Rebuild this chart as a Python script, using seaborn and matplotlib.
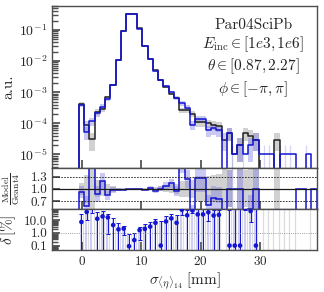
import numpy as np
import pandas as pd
import matplotlib
matplotlib.use("Agg")
import matplotlib.pyplot as plt
import seaborn as sns

# binning of sigma_<eta>_14 in mm
bin_lo, bin_hi, n_bins = -0.5, 39.5, 45
n_events = 1e5  # weight of one shower is 1/n_events

# normalised histograms (a.u.), one value per bin
g4 = [4.3e-4, 8.8e-5, 3.1e-5, 2.4e-4, 2.9e-4, 7.0e-4, 1.75e-3, 1.08e-2, 9.4e-2,
      0.335, 0.335, 0.112, 3.0e-2, 1.15e-2, 5.0e-3, 2.5e-3, 1.45e-3, 9.0e-4,
      6.7e-4, 2.7e-4, 2.6e-4, 2.0e-4, 1.1e-4, 1.1e-4, 1.0e-4, 9e-5, 8e-5, 3e-5,
      5e-5, 1e-5, 2e-5, 5e-5, 4e-5, 3e-5, 0, 0, 0, 3e-5, 0, 0, 0, 0, 0, 0, 0]
model = [4.0e-4, 5.1e-5, 1.16e-4, 2.1e-4, 3.45e-4, 5.9e-4, 1.68e-3, 1.06e-2, 9.2e-2,
         0.3353, 0.3359, 0.1102, 2.94e-2, 1.185e-2, 4.7e-3, 2.5e-3, 1.56e-3, 1.02e-3,
         6.3e-4, 4.4e-4, 3.2e-4, 9e-5, 1.4e-4, 1.4e-4, 6e-5, 7e-5, 6e-5, 0,
         5e-5, 1e-5, 2e-5, 1e-5, 2e-5, 3e-5, 1e-5, 1e-5, 1e-5, 0, 1e-5, 1e-5, 1e-5, 0, 0, 1e-5, 0]

info = ("Par04SciPb\n$E_{\\mathrm{inc}} \\in [1e3, 1e6]$\n"
        "$\\theta \\in [0.87, 2.27]$\n$\\phi \\in [-\\pi, \\pi]$")

blue = "#1414d4"
blue_band = "#7878e4"
grey_band = "#8c8c8c"

sns.set_theme(style="ticks")
plt.rcParams.update({
    "font.family": "serif",
    "font.serif": ["cmr10"],
    "mathtext.fontset": "cm",
    "axes.formatter.use_mathtext": True,
    "axes.unicode_minus": False,
    "xtick.direction": "in",
    "ytick.direction": "in",
    "xtick.labelsize": 9.5,
    "ytick.labelsize": 9.5,
    "axes.edgecolor": "0.3",
    "axes.linewidth": 1.0,
})

edges = np.linspace(bin_lo, bin_hi, n_bins + 1)
centers = 0.5 * (edges[1:] + edges[:-1])
width = edges[1] - edges[0]
g4 = np.array(g4)
model = np.array(model)
g4_err = np.sqrt(g4 / n_events)
m_err = np.sqrt(model / n_events)


def band(a, lo, hi, color, bottom):
    """error boxes; bins whose lower edge is not positive collapse to a thin line"""
    valid = np.isfinite(lo) & np.isfinite(hi) & (hi > 0)
    box = valid & (lo > 0)
    a.bar(edges[:-1][box], (hi - lo)[box], bottom=lo[box], width=width,
          align="edge", color=color, alpha=0.4, lw=0)
    thin = valid & ~box
    a.vlines(edges[:-1][thin], bottom, hi[thin], color=color, alpha=0.3, lw=0.9)


fig = plt.figure(figsize=(3.24, 2.92), dpi=100)
ax = fig.add_axes([0.1614, 0.4236, 0.8161, 0.5569])
rax = fig.add_axes([0.1614, 0.2832, 0.8161, 0.1404], sharex=ax)
dax = fig.add_axes([0.1614, 0.1438, 0.8161, 0.1394], sharex=ax)

# ---- main panel ----
ax.set_yscale("log")
band(ax, g4 - g4_err, g4 + g4_err, grey_band, 1e-7)
band(ax, model - m_err, model + m_err, blue_band, 1e-7)

floor = 1e-9
pad_edges = np.concatenate([[edges[0] - width], edges, [edges[-1] + width]])
pad_centers = 0.5 * (pad_edges[1:] + pad_edges[:-1])
for vals, col in [(g4, "#222222"), (model, blue)]:
    df = pd.DataFrame({
        "x": pad_centers,
        "w": np.concatenate([[floor], np.where(vals > 0, vals, floor), [floor]]),
    })
    sns.histplot(data=df, x="x", weights="w", bins=list(pad_edges), element="step",
                 fill=False, color=col, lw=1.1, ax=ax)

ax.set_ylim(3.6e-6, 0.6)
ax.set_xlim(-4.95, 39.5)
ax.set_ylabel("a.u.", fontsize=11)
ax.set_xlabel("")
ax.text(0.952, 0.925, info, transform=ax.transAxes, ha="right", va="top",
        multialignment="center", fontsize=11)
ax.tick_params(labelbottom=False, labelsize=10)

# ---- ratio panel ----
ok = g4 > 0
both_empty = (g4 == 0) & (model == 0)
ratio = np.full(n_bins, np.nan)
ratio[ok] = model[ok] / g4[ok]
ratio[both_empty] = 1.0
g4_rel = np.full(n_bins, np.nan)
g4_rel[ok] = g4_err[ok] / g4[ok]
m_rel = np.full(n_bins, np.nan)
mk = model > 0
m_rel[mk] = m_err[mk] / model[mk]

band(rax, 1 - g4_rel, 1 + g4_rel, grey_band, -1)
band(rax, ratio * (1 - m_rel), ratio * (1 + m_rel), blue_band, -1)
rax.stairs(ratio, edges, color=blue, lw=1.1)
rax.axhline(1.0, color="k", lw=0.9)
for lvl in (0.7, 1.3):
    rax.axhline(lvl, color="k", lw=0.6, ls=(0, (2, 1.5)))
rax.set_ylim(0.5, 1.5)
rax.set_yticks([0.7, 1.0, 1.3])
rax.set_yticklabels(["0.7", "1.0", "1.3"])
rax.set_ylabel(r"$\frac{\mathrm{Model}}{\mathrm{Geant4}}$", fontsize=10)
rax.tick_params(labelbottom=False)

# ---- relative difference panel ----
delta = np.abs(ratio - 1) * 100
delta[both_empty] = np.nan
delta_err = 100 * ratio * np.sqrt(m_rel ** 2 + g4_rel ** 2)
delta_plot = np.where(delta > 0, delta, 0.1)
delta_plot[np.isnan(delta)] = np.nan
top = delta_plot + delta_err
low = np.clip(delta_plot - delta_err, 1e-3, None)
grey_top = np.where(np.isfinite(top), top, np.where((g4 > 0) | (model > 0), 1e3, np.nan))

dax.set_yscale("log")
dax.vlines(centers - 0.12 * width, 1e-3, top, color=blue_band, alpha=0.4, lw=1.3)
dax.vlines(centers + 0.3 * width, 1e-3, grey_top, color=grey_band, alpha=0.3, lw=0.9)
dax.errorbar(centers, delta_plot, yerr=[delta_plot - low, delta_err],
             fmt="none", ecolor=blue, elinewidth=0.7, capsize=1.4, capthick=0.7)
sns.scatterplot(x=centers, y=delta_plot, color=blue, s=11, edgecolor="none",
                ax=dax, zorder=3)
dax.axhline(1.0, color="0.5", lw=0.6, ls=":")
dax.set_ylim(0.045, 68)
dax.set_yticks([0.1, 1, 10])
dax.set_yticklabels(["0.1", "1.0", "10.0"])
dax.yaxis.set_minor_formatter(matplotlib.ticker.NullFormatter())
dax.set_ylabel(r"$\delta\,[\%]$", fontsize=11)
dax.set_xlabel(r"$\sigma_{\langle\eta\rangle_{14}}\;[\mathrm{mm}]$", fontsize=11,
               labelpad=2)
dax.set_xticks([0, 10, 20, 30])

ax.yaxis.set_label_coords(-0.14, 0.5)
rax.yaxis.set_label_coords(-0.115, 0.5)
dax.yaxis.set_label_coords(-0.128, 0.5)
for a in (ax, rax, dax):
    a.tick_params(which="both", color="0.3")

fig.savefig("out.png", dpi=100)
